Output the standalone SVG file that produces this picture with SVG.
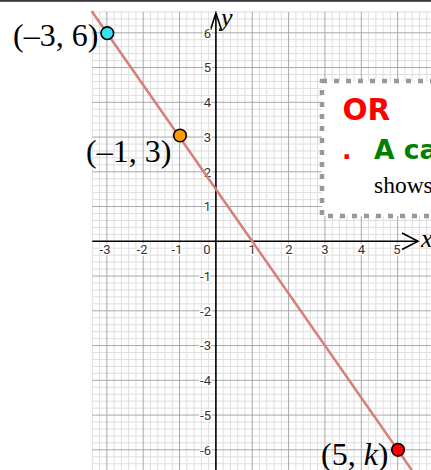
<svg xmlns="http://www.w3.org/2000/svg" width="431" height="470" viewBox="0 0 431 470">
<style>
.minor{stroke:#dedede;stroke-width:1;fill:none}
.major{stroke:#a8a8a8;stroke-width:1;fill:none}
.axis{stroke:#000;stroke-width:1.6;fill:none}
.tick{font-family:Roboto,"Liberation Sans",sans-serif;font-size:13px;fill:#333;stroke:#fff;stroke-width:3;paint-order:stroke;stroke-linejoin:round}
.tx{text-anchor:middle}
.ty{text-anchor:end}
.lbl{font-family:"Liberation Serif","Times New Roman",serif;font-size:32px;fill:#000}
.pt{stroke:#000;stroke-width:1.6}
</style>
<rect x="0" y="0" width="431" height="470" fill="#fff"/>
<rect x="0" y="0" width="431" height="1.8" fill="#3a3a3a"/>
<g id="grid">
<path class="minor" d="M92.31 11.95V470M99.58 11.95V470M114.12 11.95V470M121.39 11.95V470M128.66 11.95V470M135.93 11.95V470M150.47 11.95V470M157.74 11.95V470M165.01 11.95V470M172.28 11.95V470M186.82 11.95V470M194.09 11.95V470M201.36 11.95V470M208.63 11.95V470M223.17 11.95V470M230.44 11.95V470M237.71 11.95V470M244.98 11.95V470M259.52 11.95V470M266.79 11.95V470M274.06 11.95V470M281.33 11.95V470M295.87 11.95V470M303.14 11.95V470M310.41 11.95V470M317.68 11.95V470M332.22 11.95V470M339.49 11.95V470M346.76 11.95V470M354.03 11.95V470M368.57 11.95V470M375.84 11.95V470M383.11 11.95V470M390.38 11.95V470M404.92 11.95V470M412.19 11.95V470M419.46 11.95V470M426.73 11.95V470
M92.31 11.95H431M92.31 18.9H431M92.31 25.85H431M92.31 39.75H431M92.31 46.7H431M92.31 53.65H431M92.31 60.6H431M92.31 74.5H431M92.31 81.45H431M92.31 88.4H431M92.31 95.35H431M92.31 109.25H431M92.31 116.2H431M92.31 123.15H431M92.31 130.1H431M92.31 144H431M92.31 150.95H431M92.31 157.9H431M92.31 164.85H431M92.31 178.75H431M92.31 185.7H431M92.31 192.65H431M92.31 199.6H431M92.31 213.5H431M92.31 220.45H431M92.31 227.4H431M92.31 234.35H431M92.31 248.25H431M92.31 255.2H431M92.31 262.15H431M92.31 269.1H431M92.31 283H431M92.31 289.95H431M92.31 296.9H431M92.31 303.85H431M92.31 317.75H431M92.31 324.7H431M92.31 331.65H431M92.31 338.6H431M92.31 352.5H431M92.31 359.45H431M92.31 366.4H431M92.31 373.35H431M92.31 387.25H431M92.31 394.2H431M92.31 401.15H431M92.31 408.1H431M92.31 422H431M92.31 428.95H431M92.31 435.9H431M92.31 442.85H431M92.31 456.75H431M92.31 463.7H431"/>
<path class="major" d="M106.85 11.95V470M143.2 11.95V470M179.55 11.95V470M252.25 11.95V470M288.6 11.95V470M324.95 11.95V470M361.3 11.95V470M397.65 11.95V470
M92.31 32.8H431M92.31 67.55H431M92.31 102.3H431M92.31 137.05H431M92.31 171.8H431M92.31 206.55H431M92.31 276.05H431M92.31 310.8H431M92.31 345.55H431M92.31 380.3H431M92.31 415.05H431M92.31 449.8H431"/>
</g>
<g id="axes">
<path class="axis" d="M92.31 241.3H418M215.9 470V13"/>
<path class="axis" d="M402 233L418 241.3L402 249.5M210.5 30L215.9 13L221.5 30"/>
<text x="221" y="26" font-family="Liberation Serif,serif" font-style="italic" font-size="26">y</text>
<text x="421" y="247" font-family="Liberation Serif,serif" font-style="italic" font-size="26">x</text>
</g>
<g id="ticks">
<text class="tick tx" x="105" y="253.5">-3</text>
<text class="tick tx" x="142" y="253.5">-2</text>
<text class="tick tx" x="177" y="253.5">-1</text>
<text class="tick tx" x="207" y="253.5">0</text>
<text class="tick tx" x="252.25" y="253.5">1</text>
<text class="tick tx" x="289" y="253.5">2</text>
<text class="tick tx" x="325" y="253.5">3</text>
<text class="tick tx" x="361.5" y="253.5">4</text>
<text class="tick tx" x="397" y="253.5">5</text>
<text class="tick ty" x="211" y="37.5">6</text>
<text class="tick ty" x="211" y="72.3">5</text>
<text class="tick ty" x="211" y="107">4</text>
<text class="tick ty" x="211" y="141.8">3</text>
<text class="tick ty" x="211" y="176.5">2</text>
<text class="tick ty" x="211" y="211.3">1</text>
<text class="tick ty" x="211" y="280.8">-1</text>
<text class="tick ty" x="211" y="315.5">-2</text>
<text class="tick ty" x="211" y="350.3">-3</text>
<text class="tick ty" x="211" y="385">-4</text>
<text class="tick ty" x="211" y="419.8">-5</text>
<text class="tick ty" x="211" y="454.5">-6</text>
</g>
<g id="connectors">
<line x1="91.6" y1="11" x2="411.7" y2="470" stroke="#d5807a" stroke-width="2.5"/>
</g>
<g id="note">
<rect x="322" y="81" width="130" height="135" fill="#fff" stroke="#999" stroke-width="4.5" stroke-dasharray="5 7"/>
<text x="342.5" y="120" font-family="DejaVu Sans,sans-serif" font-weight="bold" font-size="29.5" fill="#ff0000">OR</text>
<text x="342" y="159.3" font-family="DejaVu Sans,sans-serif" font-weight="bold" font-size="25" fill="#ff0000">.</text>
<text x="374" y="159.3" font-family="DejaVu Sans,sans-serif" font-weight="bold" font-size="26.5" fill="#008000">A ca</text>
<text x="374" y="193" font-family="Liberation Serif,serif" font-size="23.5" fill="#000">shows</text>
</g>
<g id="p1">
<circle class="pt" cx="107.3" cy="33.2" r="6.3" fill="#33e3f0"/>
<text class="lbl" x="13" y="46">(–3, 6)</text>
</g>
<g id="p2">
<circle class="pt" cx="180" cy="135.5" r="6.3" fill="#ff9a00"/>
<text class="lbl" x="86" y="162">(–1, 3)</text>
</g>
<g id="p3">
<circle class="pt" cx="398" cy="449.8" r="6.3" fill="#ff0000"/>
<text class="lbl" x="321" y="465">(5, <tspan font-style="italic">k</tspan>)</text>
</g>
</svg>
